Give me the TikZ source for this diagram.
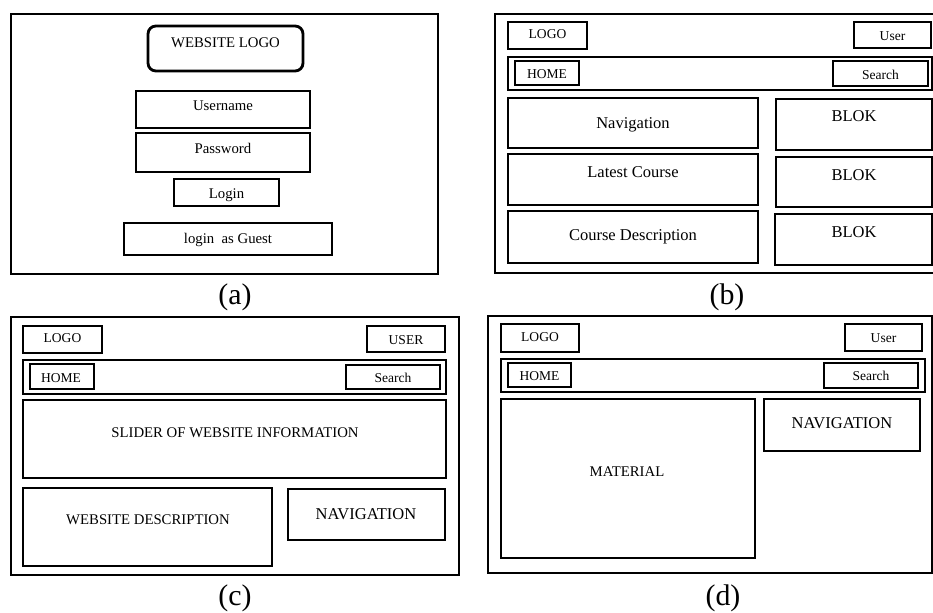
\documentclass[tikz,border=0pt]{standalone}
\usepackage{fontspec}
\setmainfont{Liberation Serif}

\tikzset{
  frame/.style={draw,line width=1.2pt},
  box/.style={draw,line width=1.6pt},
  txt/.style={font=\fontsize{8.4}{9}\selectfont,inner sep=0pt,text height=0.66em,text depth=0pt},
  bigtxt/.style={font=\fontsize{9.4}{10}\selectfont,inner sep=0pt,text height=0.66em,text depth=0pt},
  smalltxt/.style={font=\fontsize{7.7}{9}\selectfont,inner sep=0pt,text height=0.66em,text depth=0pt},
  caption/.style={font=\fontsize{17}{19}\selectfont,inner sep=0pt}
}

\begin{document}
\begin{tikzpicture}[x=0.02cm,y=-0.02cm]
\useasboundingbox (0,0) rectangle (933,612);

% (a) login page
\draw[frame] (11,14) rectangle (438,274);
\draw[box,rounded corners=4.5pt] (148,26) rectangle (303,71);
\node[txt] (alogo) at (225.5,42) {WEBSITE LOGO};
\draw[box] (136,91) rectangle (310,128);
\node[txt] (auser) at (223,105) {Username};
\draw[box] (136,133) rectangle (310,172);
\node[txt] (apass) at (223,148) {Password};
\draw[box] (174,179) rectangle (279,206);
\node[txt] (alogin) at (226.5,193) {Login};
\draw[box] (124,223) rectangle (332,255);
\node[txt] (aguest) at (228,238) {login\ \ as Guest};
\node[caption] (capa) at (235,297) {(a)};

% (b) course page
\draw[frame] (495,14) rectangle (940,273);
\draw[box] (508,22) rectangle (587,49);
\node[smalltxt] (blogo) at (547.5,33) {LOGO};
\draw[box] (854,22) rectangle (931,48);
\node[smalltxt] (buser) at (892.5,35) {User};
\draw[box] (508,57) rectangle (932,90);
\draw[box] (515,61) rectangle (579,85);
\node[smalltxt] (bhome) at (547,73) {HOME};
\draw[box] (833,61) rectangle (928,86);
\node[smalltxt] (bsearch) at (880.5,74) {Search};
\draw[box] (508,98) rectangle (758,148);
\node[bigtxt] (bnav) at (633,123) {Navigation};
\draw[box] (508,154) rectangle (758,205);
\node[bigtxt] (blatest) at (633,172) {Latest Course};
\draw[box] (508,211) rectangle (758,263);
\node[bigtxt] (bdesc) at (633,235) {Course Description};
\draw[box] (776,99) rectangle (932,150);
\node[bigtxt] (bblok1) at (854,116) {BLOK};
\draw[box] (776,157) rectangle (932,207);
\node[bigtxt] (bblok2) at (854,175) {BLOK};
\draw[box] (775,214) rectangle (932,265);
\node[bigtxt] (bblok3) at (854,232) {BLOK};
\node[caption] (capb) at (727,297) {(b)};

% (c) home page
\draw[frame] (11,317) rectangle (459,575);
\draw[box] (23,326) rectangle (102,353);
\node[smalltxt] (clogo) at (62.5,337) {LOGO};
\draw[box] (367,326) rectangle (445,352);
\node[smalltxt] (cuser) at (406,339) {USER};
\draw[box] (23,360) rectangle (446,394);
\draw[box] (30,364) rectangle (94,389);
\node[smalltxt] (chome) at (61,377) {HOME};
\draw[box] (346,365) rectangle (440,389);
\node[smalltxt] (csearch) at (393,377) {Search};
\draw[box] (23,400) rectangle (446,478);
\node[txt] (cslider) at (235,432) {SLIDER OF WEBSITE INFORMATION};
\draw[box] (23,488) rectangle (272,566);
\node[txt] (cdesc) at (148,519) {WEBSITE DESCRIPTION};
\draw[box] (288,489) rectangle (445,540);
\node[bigtxt] (cnav) at (366,514) {NAVIGATION};
\node[caption] (capc) at (235,598) {(c)};

% (d) material page
\draw[frame] (488,316) rectangle (932,573);
\draw[box] (501,324) rectangle (579,352);
\node[smalltxt] (dlogo) at (540,336) {LOGO};
\draw[box] (845,324) rectangle (922,351);
\node[smalltxt] (duser) at (883.5,337) {User};
\draw[box] (501,359) rectangle (925,392);
\draw[box] (508,363) rectangle (571,387);
\node[smalltxt] (dhome) at (539.5,375) {HOME};
\draw[box] (824,363) rectangle (918,388);
\node[smalltxt] (dsearch) at (871,375) {Search};
\draw[box] (501,399) rectangle (755,558);
\node[txt] (dmat) at (627,471) {MATERIAL};
\draw[box] (764,399) rectangle (920,451);
\node[bigtxt] (dnav) at (842,423) {NAVIGATION};
\node[caption] (capd) at (723,598) {(d)};
\end{tikzpicture}
\end{document}
